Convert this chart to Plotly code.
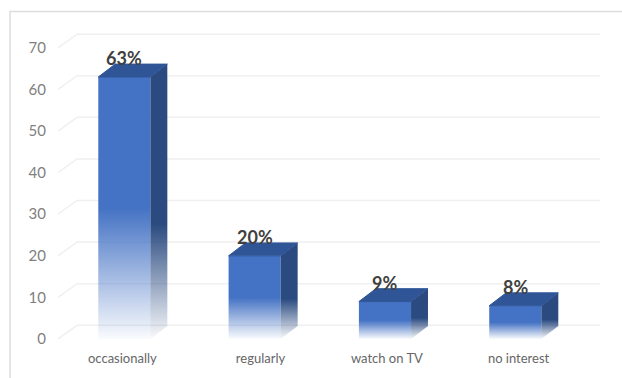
import plotly.graph_objects as go

categories = ["occasionally", "regularly", "watch on TV", "no interest"]
values = [63, 20, 9, 8]
labels = ["63%", "20%", "9%", "8%"]
y_ticks = [0, 10, 20, 30, 40, 50, 60, 70]

DX, DY = 0.13, 3.1      # depth of the bars (axis units)
HALF = 0.2              # half of the bar width
GDX = 0.146             # depth of the floor/wall grid
LABEL_SHIFT = [-0.015, 0.045, 0.015, 0.025]
X_RANGE = [-0.509, 3.65]
Y_RANGE = [0, 74.3]

FRONT, SIDE, TOP = "#4472C4", "#2A4A80", "#2F5597"

fig = go.Figure()

# perspective grid
for t in y_ticks:
    fig.add_trace(go.Scatter(
        x=[X_RANGE[0], X_RANGE[0] + GDX, X_RANGE[1]],
        y=[t, t + DY + 0.2, t + DY + 0.2],
        mode="lines", line=dict(color="#F0F0F0", width=1.5),
        hoverinfo="skip", showlegend=False))


def fade(color, stop):
    r, g, b = int(color[1:3], 16), int(color[3:5], 16), int(color[5:7], 16)
    return [[0, f"rgba({r},{g},{b},0.03)"],
            [stop, f"rgba({r},{g},{b},1)"],
            [1, f"rgba({r},{g},{b},1)"]]


for i, v in enumerate(values):
    l, r = i - HALF, i + HALF
    fig.add_trace(go.Scatter(
        x=[l, r, r, l, l], y=[0, 0, v, v, 0], mode="lines", fill="toself",
        line=dict(width=0),
        fillgradient=dict(type="vertical", colorscale=fade(FRONT, 0.5)),
        hoverinfo="skip", showlegend=False))
    fig.add_trace(go.Scatter(
        x=[r, r + DX, r + DX, r, r], y=[0, DY, v + DY, v, 0], mode="lines", fill="toself",
        line=dict(width=0),
        fillgradient=dict(type="vertical", colorscale=fade(SIDE, 0.42)),
        hoverinfo="skip", showlegend=False))
    fig.add_trace(go.Scatter(
        x=[l, r, r + DX, l + DX, l], y=[v, v, v + DY, v + DY, v], mode="lines", fill="toself",
        line=dict(color=TOP, width=1), fillcolor=TOP,
        hoverinfo="skip", showlegend=False))

annotations = [dict(x=i, y=v, text=f"<b>{lab}</b>", showarrow=False, yshift=19,
                    font=dict(family="Lato", size=18, color="#404040"))
               for i, (v, lab) in enumerate(zip(values, labels))]

fig.update_layout(
    width=622, height=378, autosize=False,
    margin=dict(l=58, r=22, t=30, b=31),
    paper_bgcolor="white", plot_bgcolor="white",
    showlegend=False, annotations=annotations,
    xaxis=dict(range=X_RANGE, tickmode="array",
               tickvals=[i + s for i, s in enumerate(LABEL_SHIFT)],
               ticktext=categories, showgrid=False, zeroline=False, showline=False,
               ticks="outside", ticklen=7, tickcolor="rgba(0,0,0,0)",
               tickfont=dict(family="Lato", size=13, color="#666666")),
    yaxis=dict(range=Y_RANGE, tickmode="array", tickvals=y_ticks,
               showgrid=False, zeroline=False, showline=False,
               ticks="outside", ticklen=8, tickcolor="rgba(0,0,0,0)",
               tickfont=dict(family="Lato", size=15, color="#7F7F7F")),
    shapes=[dict(type="line", xref="paper", yref="paper", x0=-0.0885, x1=-0.0885, y0=-0.14, y1=1.062,
                 line=dict(color="#DDDDDD", width=1.5)),
            dict(type="line", xref="paper", yref="paper", x0=-0.0885, x1=1.05, y0=1.06, y1=1.06,
                 line=dict(color="#DDDDDD", width=1.5))],
)
fig.write_html("out.html", config={"displayModeBar": False},
               post_script="document.body.style.margin='0';document.documentElement.style.overflow='hidden';")
